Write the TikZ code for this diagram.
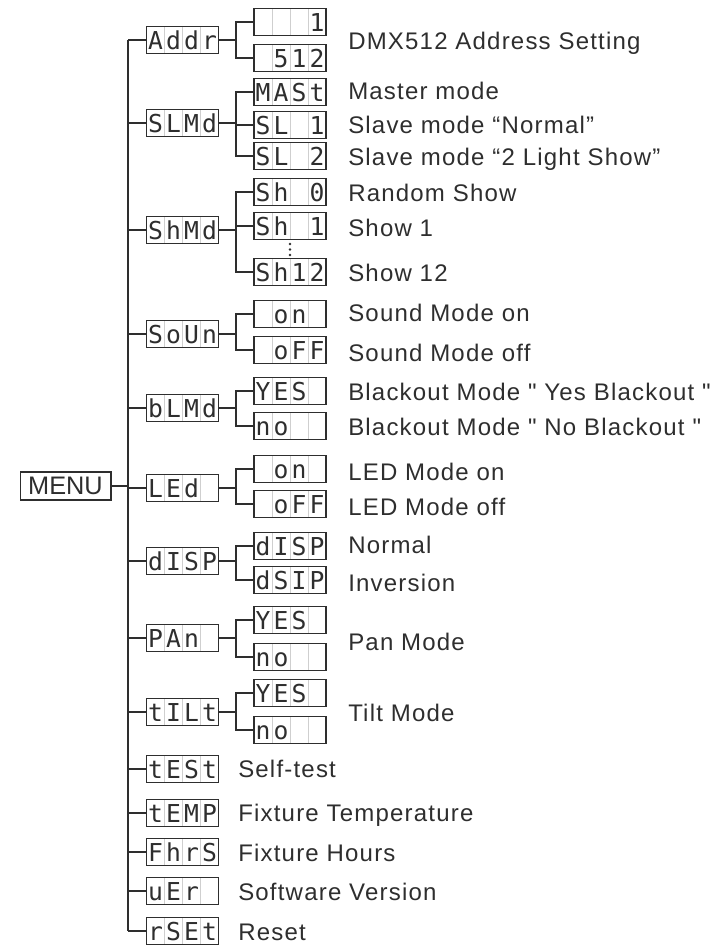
\documentclass[tikz,border=0pt]{standalone}
\usepackage{fontspec}
\setmainfont{Liberation Sans}
\newfontfamily\lcdfont{DejaVu Sans Mono}
\newfontfamily\labelfont{Liberation Sans}[LetterSpace=5]
\usetikzlibrary{positioning}

\definecolor{ink}{HTML}{2E2E2E}
\definecolor{cellline}{HTML}{CFCFCF}

\newcommand{\lcd}[4]{\makebox[13.5pt]{#1}\makebox[13.5pt]{#2}\makebox[13.5pt]{#3}\makebox[13.5pt]{#4}}

\tikzset{
  display/.style={draw=ink, line width=1pt, inner sep=0pt, minimum width=54pt, minimum height=20pt,
    text height=13.6pt, text depth=0pt, font=\lcdfont\fontsize{18.5}{18.5}\selectfont, text=ink,
    path picture={\foreach \dx in {-13.5pt,0pt,13.5pt}
      \draw[cellline, line width=0.7pt] ([xshift=\dx]path picture bounding box.south) -- ([xshift=\dx]path picture bounding box.north);}},
  menubox/.style={draw=ink, line width=1pt, inner sep=0pt, minimum width=68pt, minimum height=21pt,
    font=\fontsize{19}{19}\selectfont, text=ink},
  caption/.style={anchor=base west, inner sep=0pt, font=\labelfont\fontsize{18}{20}\selectfont, text=ink},
  link/.style={draw=ink, line width=1pt},
}

\begin{document}
\begin{tikzpicture}[x=0.75pt, y=-0.75pt]
  \useasboundingbox (0,0) rectangle (726,945);
  \coordinate (trunk) at (128,0);
  \coordinate (fork) at (236,0);

  \node[menubox] (menu) at (65.5,486) {MENU};

  \node[display] (addr) at (182.5,40) {\lcd{A}{d}{d}{r}};
  \node[display] (slmd) at (182.5,123) {\lcd{S}{L}{M}{d}};
  \node[display] (shmd) at (182.5,230) {\lcd{S}{h}{M}{d}};
  \node[display] (soun) at (182.5,334) {\lcd{S}{o}{U}{n}};
  \node[display] (blmd) at (182.5,408) {\lcd{b}{L}{M}{d}};
  \node[display] (led) at (182.5,488) {\lcd{L}{E}{d}{}};
  \node[display] (disp) at (182.5,561) {\lcd{d}{I}{S}{P}};
  \node[display] (pan) at (182.5,638) {\lcd{P}{A}{n}{}};
  \node[display] (tilt) at (182.5,712) {\lcd{t}{I}{L}{t}};
  \node[display] (test) at (182.5,769) {\lcd{t}{E}{S}{t}};
  \node[display] (temp) at (182.5,813) {\lcd{t}{E}{M}{P}};
  \node[display] (hrs) at (182.5,852) {\lcd{F}{h}{r}{S}};
  \node[display] (ver) at (182.5,891) {\lcd{u}{E}{r}{}};
  \node[display] (rset) at (182.5,931) {\lcd{r}{S}{E}{t}};

  \node[display] (addrmin) at (290,22) {\lcd{}{}{}{1}};
  \node[display] (addrmax) at (290,58) {\lcd{}{5}{1}{2}};
  \node[display] (mast) at (290,92) {\lcd{M}{A}{S}{t}};
  \node[display] (slone) at (290,125) {\lcd{S}{L}{}{1}};
  \node[display] (sltwo) at (290,156) {\lcd{S}{L}{}{2}};
  \node[display] (shzero) at (290,192) {\lcd{S}{h}{}{0}};
  \node[display] (shone) at (290,226) {\lcd{S}{h}{}{1}};
  \node[display] (shtwelve) at (290,272) {\lcd{S}{h}{1}{2}};
  \node[display] (sndon) at (290,314) {\lcd{}{o}{n}{}};
  \node[display] (sndoff) at (290,350) {\lcd{}{o}{F}{F}};
  \node[display] (blyes) at (290,391) {\lcd{Y}{E}{S}{}};
  \node[display] (blno) at (290,426) {\lcd{n}{o}{}{}};
  \node[display] (ledon) at (290,469) {\lcd{}{o}{n}{}};
  \node[display] (ledoff) at (290,504) {\lcd{}{o}{F}{F}};
  \node[display] (dispn) at (290,546) {\lcd{d}{I}{S}{P}};
  \node[display] (dispi) at (290,580) {\lcd{d}{S}{I}{P}};
  \node[display] (panyes) at (290,620) {\lcd{Y}{E}{S}{}};
  \node[display] (panno) at (290,657) {\lcd{n}{o}{}{}};
  \node[display] (tiltyes) at (290,693) {\lcd{Y}{E}{S}{}};
  \node[display] (tiltno) at (290,730) {\lcd{n}{o}{}{}};
  \foreach \y in {244,249.5,255}
    \fill[ink] (290,\y) circle (1.1pt);

  \node[caption] (l1) at (348,49.5) {DMX512 Address Setting};
  \node[caption] (l2) at (348,99.5) {Master mode};
  \node[caption] (l3) at (348,133.5) {Slave mode “Normal”};
  \node[caption] (l4) at (348,165.5) {Slave mode “2 Light Show”};
  \node[caption] (l5) at (348,201.5) {Random Show};
  \node[caption] (l6) at (348,236.5) {Show 1};
  \node[caption] (l7) at (348,281.5) {Show 12};
  \node[caption] (l8) at (348,321.5) {Sound Mode on};
  \node[caption] (l9) at (348,361.5) {Sound Mode off};
  \node[caption] (l10) at (348,400.5) {Blackout Mode " Yes Blackout "};
  \node[caption] (l11) at (348,435.5) {Blackout Mode " No Blackout "};
  \node[caption] (l12) at (348,480.5) {LED Mode on};
  \node[caption] (l13) at (348,515.5) {LED Mode off};
  \node[caption] (l14) at (348,553.5) {Normal};
  \node[caption] (l15) at (348,591.5) {Inversion};
  \node[caption] (l16) at (348,650.5) {Pan Mode};
  \node[caption] (l17) at (348,721.5) {Tilt Mode};
  \node[caption] (l18) at (238,777.5) {Self-test};
  \node[caption] (l19) at (238,821.5) {Fixture Temperature};
  \node[caption] (l20) at (238,861.5) {Fixture Hours};
  \node[caption] (l21) at (238,900.5) {Software Version};
  \node[caption] (l22) at (238,940) {Reset};

  \draw[link] (menu) -- (menu -| trunk);
  \draw[link] (addr.west -| trunk) -- (rset.west -| trunk);
  \foreach \n in {addr,slmd,shmd,soun,blmd,led,disp,pan,tilt,test,temp,hrs,ver,rset}
    \draw[link] (\n.west) -- (\n.west -| trunk);
  \foreach \p/\a/\b in {addr/addrmin/addrmax, slmd/mast/sltwo, shmd/shzero/shtwelve,
      soun/sndon/sndoff, blmd/blyes/blno, led/ledon/ledoff, disp/dispn/dispi,
      pan/panyes/panno, tilt/tiltyes/tiltno} {
    \draw[link] (\p.east) -- (\p.east -| fork);
    \draw[link] (\a.west) -- (\a.west -| fork) -- (\b.west -| fork) -- (\b.west);
  }
  \foreach \n in {slone,shone}
    \draw[link] (\n.west) -- (\n.west -| fork);
\end{tikzpicture}
\end{document}
